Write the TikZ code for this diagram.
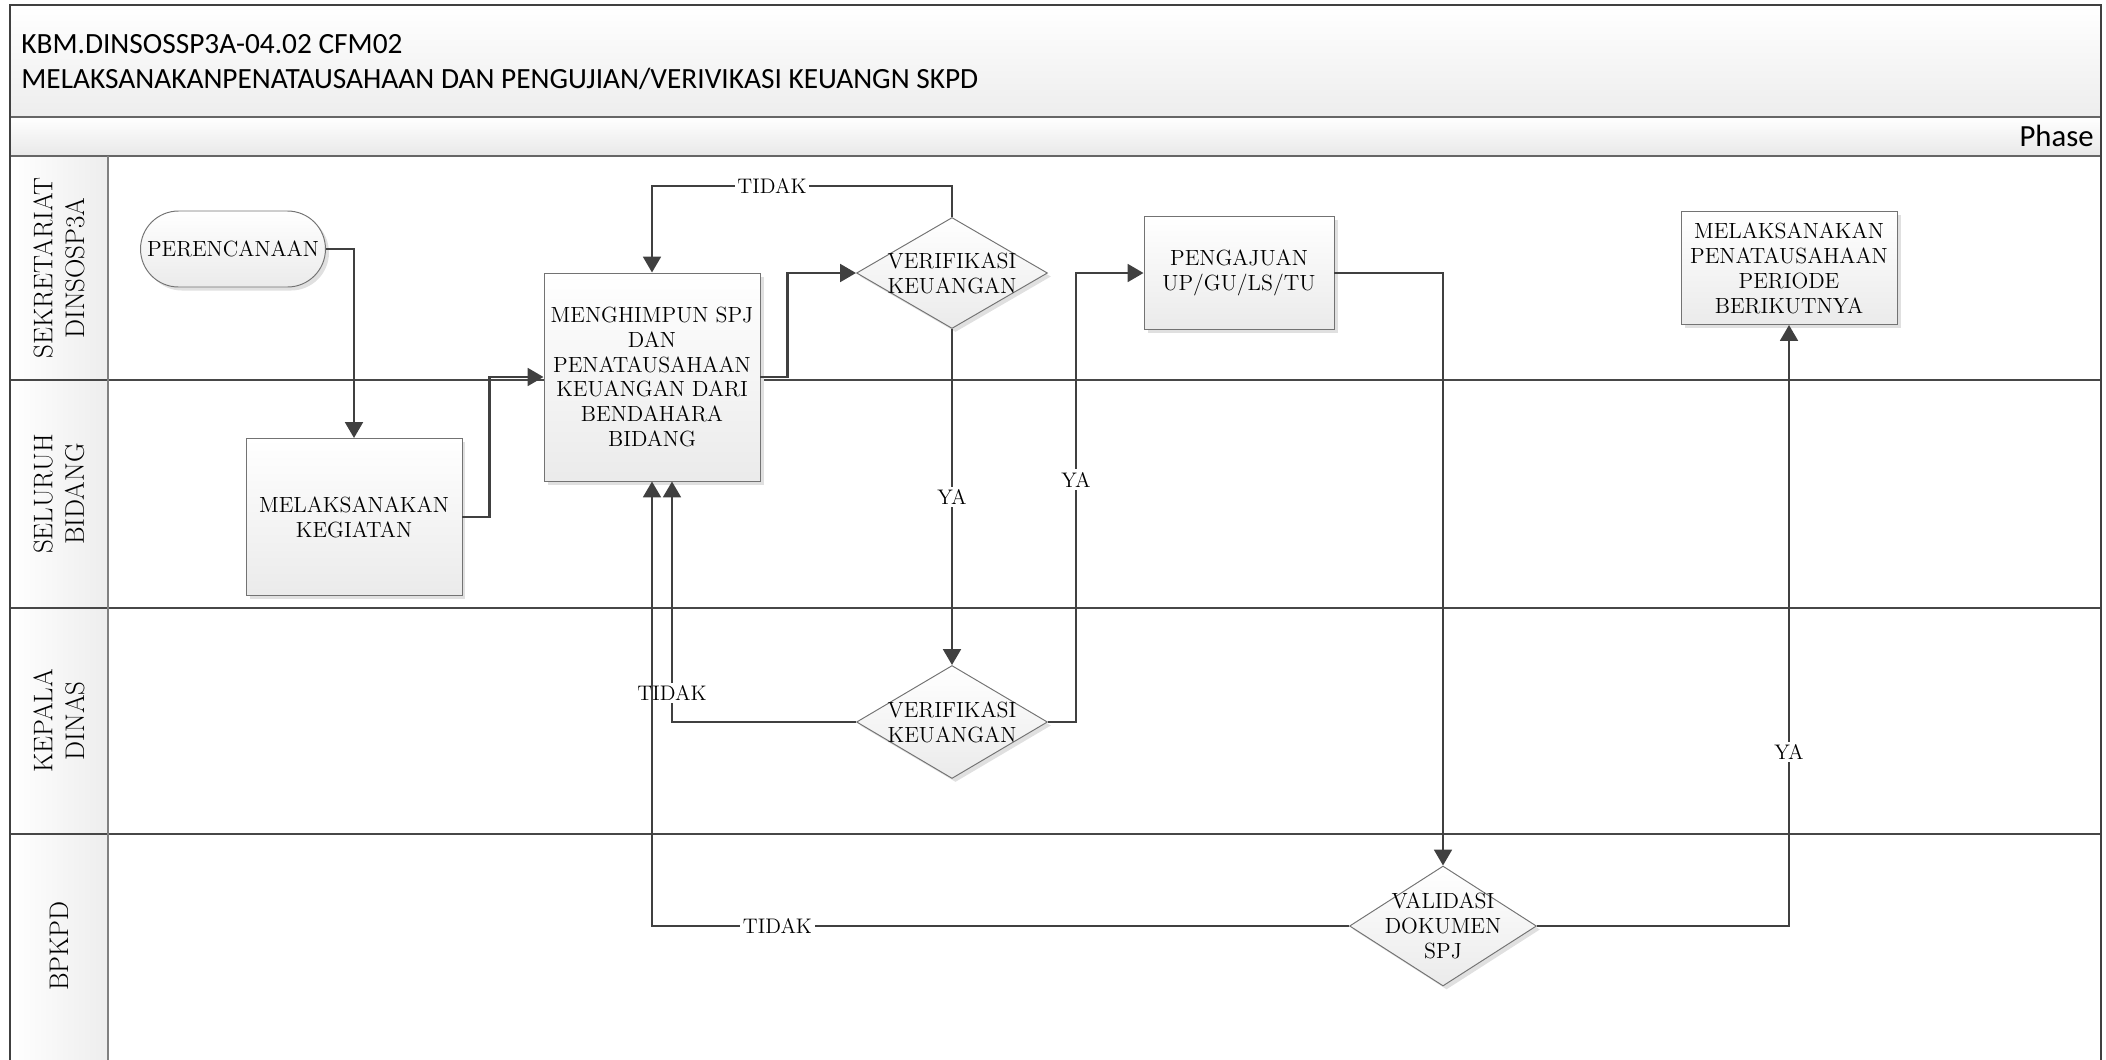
\documentclass[tikz,border=0pt]{standalone}
\usepackage{fontspec}
\usepackage{tikz}
\usetikzlibrary{shapes.geometric,arrows.meta,shadows}
\newfontfamily\hdrfont{Carlito}

\begin{document}
\begin{tikzpicture}[
        x=0.02cm, y=-0.02cm,
        box/.style={draw=black!55, line width=0.55pt, top color=white, bottom color=black!8,
            general shadow={fill=black!12, shadow xshift=2pt, shadow yshift=-2pt},
            align=center, font=\fontsize{12.5}{14.2}\selectfont, inner sep=2pt},
        proc/.style={box, rectangle},
        term/.style={box, rectangle, rounded corners=0.76cm, minimum width=3.7cm, minimum height=1.52cm},
        dec/.style={box, diamond, inner sep=0pt},
        dectxt/.style={align=center, inner sep=0pt, font=\fontsize{12.5}{14.2}\selectfont},
        flow/.style={draw=black!75, line width=1.6pt, -{Triangle[length=9pt, width=10pt]}},
        cond/.style={fill=white, inner sep=1.5pt, font=\fontsize{12}{14}\selectfont},
        lanetxt/.style={rotate=90, align=center, font=\fontsize{15.3}{18}\selectfont},
        hdr/.style={anchor=west, inner sep=0pt, font=\hdrfont\fontsize{16.7}{19}\selectfont}
    ]

        \useasboundingbox (0,0) rectangle (2106,1059);
        \shade[top color=white, bottom color=black!7] (10,5) rectangle (2101,117);
        \shade[top color=white, bottom color=black!9] (10,117) rectangle (2101,156);
        \shade[left color=white, right color=black!7] (10,156) rectangle (108,1065);
        \draw[black!60, line width=0.8pt] (10,117) -- (2101,117) (10,156) -- (2101,156);
        \foreach \yy in {380,608,834}
            \draw[black!72, line width=0.9pt] (10,\yy) -- (2101,\yy);
        \draw[black!50, line width=0.6pt] (108,156) -- (108,1065);
        \draw[black!75, line width=1.1pt] (10,1065) -- (10,5) -- (2101,5) -- (2101,1065);

        \node[hdr] (code) at (21,44) {KBM.DINSOSSP3A-04.02 CFM02};
        \node[hdr] (title) at (21,79) {MELAKSANAKANPENATAUSAHAAN DAN PENGUJIAN/VERIVIKASI KEUANGN SKPD};
        \node[hdr, anchor=east, font=\hdrfont\fontsize{17.5}{20}\selectfont] (phase) at (2094,136) {Phase};

        \node[lanetxt] (laneSek) at (59,268) {SEKRETARIAT\\DINSOSP3A};
        \node[lanetxt] (laneBid) at (59,494) {SELURUH\\BIDANG};
        \node[lanetxt] (laneKadis) at (59,721) {KEPALA\\DINAS};
        \node[lanetxt] (laneBpkpd) at (59,946) {BPKPD};

        \node[term] (plan) at (233,249) {PERENCANAAN};
        \node[proc, minimum width=4.32cm, minimum height=3.14cm] (kegiatan) at (354,517) {MELAKSANAKAN\\KEGIATAN};
        \node[proc, minimum width=4.32cm, minimum height=4.16cm] (himpun) at (652,377)
            {MENGHIMPUN SPJ\\DAN\\PENATAUSAHAAN\\KEUANGAN DARI\\BENDAHARA\\BIDANG};
        \node[dec, minimum width=3.82cm, minimum height=2.22cm,
            label={[dectxt]center:VERIFIKASI\\KEUANGAN}] (verif1) at (952,273) {};
        \node[proc, minimum width=3.8cm, minimum height=2.26cm] (ajuan) at (1239,273) {PENGAJUAN\\UP/GU/LS/TU};
        \node[proc, minimum width=4.32cm, minimum height=2.26cm] (berikut) at (1789,268)
            {MELAKSANAKAN\\PENATAUSAHAAN\\PERIODE\\BERIKUTNYA};
        \node[dec, minimum width=3.82cm, minimum height=2.26cm,
            label={[dectxt]center:VERIFIKASI\\KEUANGAN}] (verif2) at (952,722) {};
        \node[dec, minimum width=3.74cm, minimum height=2.4cm,
            label={[dectxt]center:VALIDASI\\DOKUMEN\\SPJ}] (valid) at (1443,926) {};

        \draw[flow] (plan.east) -| (kegiatan.north);
        \draw[flow] (kegiatan.east) -- ++(27,0) |- (himpun.west);
        \draw[flow] (himpun.east) -- ++(27,0) |- (verif1.west);
        \draw[flow] (verif1.north) -- ++(0,-31) -| node[cond, pos=0.3] {TIDAK} (himpun.north);
        \draw[flow] (verif1.south) -- node[cond] {YA} (verif2.north);
        \draw[flow] (verif2.west) -| node[cond, pos=0.56] {TIDAK} ([xshift=0.4cm]himpun.south);
        \draw[flow] (verif2.east) -- ++(28,0) |- node[cond, pos=0.27] {YA} (ajuan.west);
        \draw[flow] (ajuan.east) -| (valid.north);
        \draw[flow] (valid.west) -| node[cond, pos=0.41] {TIDAK} (himpun.south);
        \draw[flow] (valid.east) -| node[cond, pos=0.645] {YA} (berikut.south);

    \end{tikzpicture}
\end{document}
